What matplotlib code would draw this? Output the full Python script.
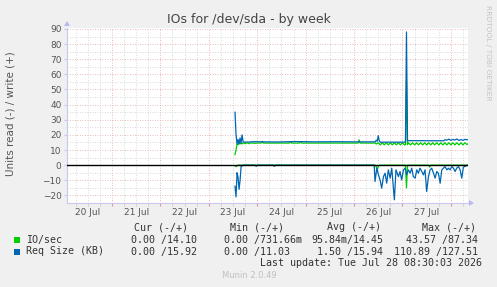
import matplotlib
matplotlib.use("Agg")
import matplotlib.pyplot as plt
from matplotlib.patches import Rectangle, Polygon
import numpy as np

# ---------------- data (time in hours since 20 Jul 00:00) ----------------
io_write_t = [85, 85.5, 86, 86.5, 87, 87.5, 88, 88.5, 89, 90, 91, 92, 93, 94, 95, 96,
              98, 98.5, 99, 112, 112.5, 113, 117, 117.5, 118, 146, 146.5, 147, 154.5, 155,
              156, 157, 158, 159, 160, 161, 162, 163, 164, 165, 166, 167, 168, 169, 169.5,
              170, 170.5, 171, 172, 173, 174, 175, 176, 177, 178, 179, 180, 181, 182, 183,
              184, 185, 186, 187, 188, 189, 190, 191, 192, 193, 194, 195, 196, 197, 198,
              199, 200, 200.5]
io_write_v = [7, 10, 14, 13.5, 15.5, 14, 14.8, 14, 14.8, 14.2, 14.8, 14.2, 14.8, 14.5, 14.5, 14.6,
              14.6, 15.8, 14.6, 14.6, 15.6, 14.6, 14.6, 15.5, 14.6, 14.6, 16.7, 14.6, 14.6, 14.0,
              14.8, 13.4, 14.8, 13.4, 14.8, 13.4, 14.8, 13.4, 14.8, 13.4, 14.8, 13.4, 14.8, 13.4, 13.5,
              56, 13.5, 14.8, 13.4, 14.8, 13.4, 14.8, 13.4, 14.8, 13.4, 14.8, 13.4, 14.8, 13.4, 14.8,
              13.4, 14.8, 13.4, 14.8, 13.4, 14.8, 13.4, 14.8, 13.4, 14.8, 13.4, 14.8, 13.4, 14.8, 13.4,
              14.8, 13.6, 14.1]

io_read_t = [85, 85.5, 86, 86.5, 154.5, 155, 155.5, 156, 156.5, 169.5, 170, 170.5,
             181, 181.5, 182, 200.5]
io_read_v = [0.5, 1, 0.5, 0, 0, 1, 3, 1, 0, 0, 15, 0,
             0, 1.3, 0, 0]

req_write_t = [85, 85.5, 86, 86.5, 87, 87.5, 88, 88.5, 89, 89.5, 95, 105, 115, 125, 135,
               145, 154.5, 155, 155.5, 156, 156.5, 157, 169.5, 170, 170.5, 188.5, 189, 190,
               191, 192, 193, 194, 195, 196, 197, 198, 199, 200.5]
req_write_v = [35, 20, 14, 17, 14, 18, 14.5, 20, 15.5, 15.2, 15.5, 15.3, 15.6, 15.4, 15.5,
               15.4, 15.4, 16.5, 15.8, 19.5, 16, 15.2, 15.2, 88, 16.2, 16.1, 16.8, 16.5,
               17.2, 16.4, 17, 16.6, 17.3, 16.3, 16.9, 16.4, 17, 16.8]

req_read_t = [85, 85.5, 86, 86.5, 87, 87.5, 88, 88.5, 89, 95, 95.5, 96, 104, 104.5, 105,
              154, 154.4, 155.3, 156.1, 156.9, 157.7, 158.6, 159.4, 160.2, 161.0, 161.9,
              162.7, 164.0, 164.8, 166.0, 166.8, 167.6, 168.5, 169.3, 170.1, 170.9, 171.8,
              172.6, 173.4, 174.3, 175.1, 175.9, 176.7, 177.6, 178.4, 179.2, 180.0, 180.9,
              181.7, 182.5, 183.4, 184.2, 185.0, 185.8, 186.7, 187.5, 188.3, 189.1, 190.0,
              190.8, 191.6, 192.5, 193.3, 194.1, 194.9, 195.8, 196.6, 197.4, 198.2, 199.5,
              200.5]
req_read_v = [14, 21, 5, 8, 16, 10, 1, 0.5, 0, 0, 0.8, 0, 0, 0.8, 0,
              0, 10.8, 2, 6.4, 9.7, 15.2, 7.5, 5.3, 11.9, 3.1, 8.6,
              2, 22.9, 3.1, 7.5, 4.2, 9.7, 3.1, 2, 6.4, 3.1, 5.3,
              2, 7.5, 8.6, 3.1, 5.3, 2, 4.2, 6.4, 3.1, 17.4, 7.5,
              3.1, 2, 5.3, 8.6, 4.2, 5.3, 11.9, 3.1, 2, 0.9, 3.1,
              2, 3.1, 0.9, 2, 4.2, 2, 0.9, 3.1, 8.6, 1.3, 0.5,
              0]

day_labels = ["20 Jul", "21 Jul", "22 Jul", "23 Jul", "24 Jul", "25 Jul", "26 Jul", "27 Jul"]
y_ticks = [-20, -10, 0, 10, 20, 30, 40, 50, 60, 70, 80, 90]

legend_names = ["IO/sec", "Req Size (KB)"]
legend_colors = ["#00cc00", "#0066b3"]
legend_cur = ["0.00 /14.10", "0.00 /15.92"]
legend_min = ["0.00 /731.66m", "0.00 /11.03"]
legend_avg = ["95.84m/14.45", "1.50 /15.94"]
legend_max = ["43.57 /87.34", "110.89 /127.51"]

# ---------------- figure ----------------
W, H = 497, 287
fig = plt.figure(figsize=(W / 100, H / 100), dpi=100, facecolor="#f0f0f0")

def fx(x):
    return x / W

def fy(y):
    return 1 - y / H

x0, x1 = 67, 468
y_top, y_bot = 28.2, 203
ax = fig.add_axes([fx(x0), fy(y_bot), (x1 - x0) / W, (y_bot - y_top) / H])
ax.set_facecolor("white")
ax.set_xlim(1.7, 200.5)
ax.set_ylim(-24.9, 90.5)

axis_col = "#c8c8f0"
for s in ["top", "right"]:
    ax.spines[s].set_visible(False)
for s in ["left", "bottom"]:
    ax.spines[s].set_color(axis_col)
    ax.spines[s].set_linewidth(0.8)

ax.set_axisbelow(True)
ax.set_yticks(y_ticks)
ax.set_yticks([v + 5 for v in y_ticks[:-1]] + [-25], minor=True)
midnights = [24 * i for i in range(1, 9)]
ax.set_xticks(midnights)
ax.set_xticks([6 * i for i in range(0, 34) if i % 4 != 0], minor=True)
ax.set_xticklabels([])
ax.tick_params(axis="y", which="major", labelsize=6.5, labelcolor="#555555", length=2,
               color=axis_col, pad=2)
ax.tick_params(axis="y", which="minor", length=0)
ax.tick_params(axis="x", which="major", length=2, color="#e09090")
ax.tick_params(axis="x", which="minor", length=2, color="#c8c8c8")

ax.grid(which="major", color="#e4a4a4", linestyle=(0, (1, 2)), linewidth=0.6)
ax.grid(which="minor", color="#cccccc", linestyle=(0, (1, 2)), linewidth=0.6)

for d, lab in enumerate(day_labels):
    ax.text(12 + 24 * d, -0.055, lab, transform=ax.get_xaxis_transform(), ha="center",
            va="center", fontsize=6.5, color="#555555")

# series (reads drawn negative, as munin does)
ax.plot(io_write_t, io_write_v, color="#00cc00", lw=0.9, zorder=3)
ax.plot(io_read_t, -np.array(io_read_v), color="#00cc00", lw=0.9, zorder=3)
ax.plot(req_write_t, req_write_v, color="#0066b3", lw=0.9, zorder=4)
ax.plot(req_read_t, -np.array(req_read_v), color="#0066b3", lw=0.9, zorder=4)
ax.axhline(0, color="black", lw=1.0, zorder=5)

# axis arrows
fig.add_artist(Polygon([(fx(64), fy(26)), (fx(70), fy(26)), (fx(67), fy(21))],
                       closed=True, transform=fig.transFigure, color="#b8b8f0", lw=0))
fig.add_artist(Polygon([(fx(469), fy(200)), (fx(469), fy(206)), (fx(474), fy(203))],
                       closed=True, transform=fig.transFigure, color="#b8b8f0", lw=0))

# titles
fig.text(fx(249), fy(20), "IOs for /dev/sda - by week", ha="center", va="center",
         fontsize=9, color="#444444")
fig.text(fx(11), fy(114), "Units read (-) / write (+)", rotation=90, ha="center",
         va="center", fontsize=7.5, color="#555555")
fig.text(fx(488), fy(5), "RRDTOOL / TOBI OETIKER", rotation=270, ha="center", va="top",
         fontsize=5.4, color="#c4c4c4")

# legend
mono = dict(family="DejaVu Sans Mono", fontsize=7.2, color="#333333", va="center")
fig.text(fx(134), fy(227), "Cur (-/+)", **mono)
fig.text(fx(230), fy(227), "Min (-/+)", **mono)
fig.text(fx(327), fy(227), "Avg (-/+)", **mono)
fig.text(fx(422), fy(227), "Max (-/+)", **mono)

row_y = [239.5, 251.5]
for i, y in enumerate(row_y):
    fig.add_artist(Rectangle((fx(14), fy(y + 3)), 6 / W, 6 / H, transform=fig.transFigure,
                             color=legend_colors[i], lw=0))
    fig.text(fx(26), fy(y), legend_names[i], **mono)
    fig.text(fx(197), fy(y), legend_cur[i], ha="right", **mono)
    fig.text(fx(224), fy(y), legend_min[i], ha="left", **mono)
    fig.text(fx(383), fy(y), legend_avg[i], ha="right", **mono)
    fig.text(fx(478), fy(y), legend_max[i], ha="right", **mono)

fig.text(fx(482), fy(263.5), "Last update: Tue Jul 28 08:30:03 2026", ha="right", **mono)
fig.text(fx(249), fy(276), "Munin 2.0.49", ha="center", va="center", fontsize=6,
         color="#c0c0c0")

fig.savefig("out.png", dpi=100, facecolor=fig.get_facecolor())
